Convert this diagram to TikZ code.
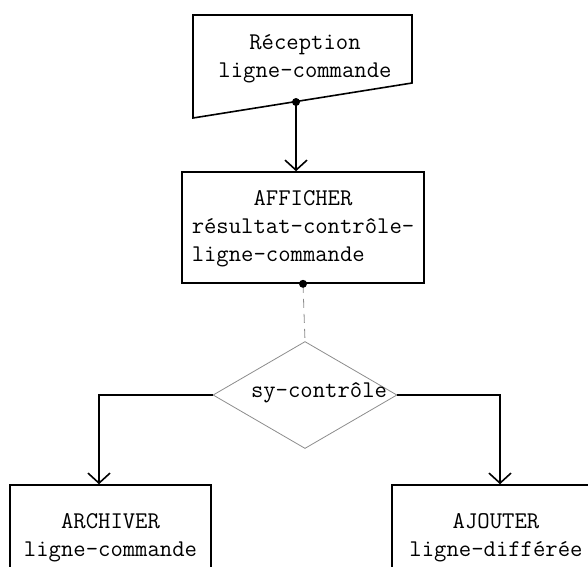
\documentclass[tikz,border=0pt]{standalone}
\usepackage{fontspec}
\usetikzlibrary{shapes.geometric,arrows.meta,calc}
\begin{document}
\begin{tikzpicture}[x=1pt,y=-1pt,
  every node/.style={font=\ttfamily\fontsize{24}{28}\selectfont, inner sep=0pt},
  box/.style={draw, line width=1.6pt, rectangle},
  conn/.style={line width=1.6pt, -{Straight Barb[length=10pt,width=22pt,line width=1.6pt]}},
  faint/.style={draw=black!45, line width=0.8pt},
  dot/.style={fill=black}]
\useasboundingbox (0,0) rectangle (588,566);
\clip (0,0) rectangle (588,566);
% top manual input shape
\node[align=center] (rec) at (305,59) {Réception\\ligne-commande};
\draw[line width=1.6pt, line join=miter] (193,15) -- (412,15) -- (412,83) -- (193,118) -- cycle;
\coordinate (d1) at (296,102);
% box 2
\node[box, minimum width=242pt, minimum height=111pt] (aff) at (303,227.5)
  {\begin{tabular}{@{}l@{}}\multicolumn{1}{@{}c@{}}{AFFICHER}\\résultat-contrôle-\\ligne-commande\end{tabular}};
% decision
\node[faint, diamond, minimum width=184pt, minimum height=107pt] (dec) at (305,395) {};
\node (lab) at (319,393) {sy-contrôle};
% bottom boxes
\node[box, minimum width=201pt, minimum height=106pt, align=center] (arc) at (110.5,538) {ARCHIVER\\ligne-commande};
\node[box, minimum width=208pt, minimum height=106pt, align=center] (aj) at (496,538) {AJOUTER\\ligne-différée};
% connectors
\draw[conn] (d1) -- (d1 |- aff.north);
\fill[dot] (d1) circle (4pt);
\draw[faint, dash pattern=on 9pt off 6pt] (aff.south) -- (dec.north);
\fill[dot] (aff.south) circle (4pt);
\draw[conn] (dec.west) -| ([xshift=-11.5pt]arc.north);
\draw[conn] (dec.east) -| ([xshift=4pt]aj.north);
\end{tikzpicture}
\end{document}
